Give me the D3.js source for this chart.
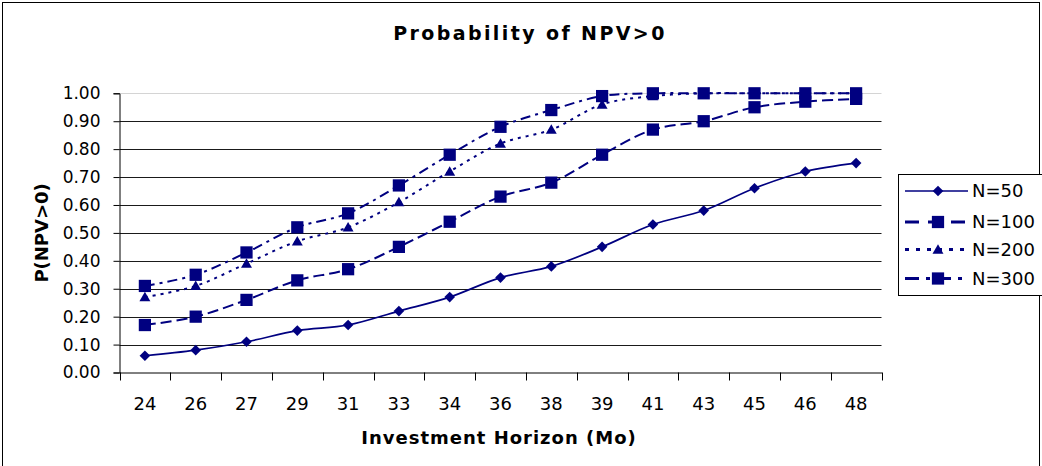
<!DOCTYPE html>
<html>
<head>
<meta charset="utf-8">
<script src="https://cdn.jsdelivr.net/npm/d3@7"></script>
<style>
  body { margin: 0; background: #fff; }
  svg { display: block; }
  text { font-family: "DejaVu Sans", Verdana, sans-serif; fill: #000; }
</style>
</head>
<body>
<svg id="chart" width="1042" height="466"></svg>
<script>
const categories = ["24","26","27","29","31","33","34","36","38","39","41","43","45","46","48"];
const n50  = [0.06,0.08,0.11,0.15,0.17,0.22,0.27,0.34,0.38,0.45,0.53,0.58,0.66,0.72,0.75];
const n100 = [0.17,0.20,0.26,0.33,0.37,0.45,0.54,0.63,0.68,0.78,0.87,0.90,0.95,0.97,0.98];
const n200 = [0.27,0.31,0.39,0.47,0.52,0.61,0.72,0.82,0.87,0.96,0.99,1.00,1.00,1.00,1.00];
const n300 = [0.31,0.35,0.43,0.52,0.57,0.67,0.78,0.88,0.94,0.99,1.00,1.00,1.00,1.00,1.00];
const yTicks = [0,0.1,0.2,0.3,0.4,0.5,0.6,0.7,0.8,0.9,1.0];
const seriesNames = ["N=50","N=100","N=200","N=300"];

const navy = "#000080";
const FONT = '"DejaVu Sans", Verdana, sans-serif';
const svg = d3.select("#chart");

// outer border
svg.append("rect").attr("x",2.5).attr("y",2.5).attr("width",1037).attr("height",480)
  .attr("fill","none").attr("stroke","#000").attr("stroke-width",1);

const pL = 119.5, pR = 881.5, pT = 93.3, pB = 372.5;
const x = d3.scaleBand().domain(categories).range([pL, pR]).padding(0);
const y = d3.scaleLinear().domain([0,1]).range([pB, pT]);
const cx = c => x(c) + x.bandwidth()/2;

// gridlines
svg.append("g").selectAll("line").data(yTicks.filter(t => t > 0)).join("line")
  .attr("x1", pL).attr("x2", pR)
  .attr("y1", d => Math.round(y(d)) + 0.5).attr("y2", d => Math.round(y(d)) + 0.5)
  .attr("stroke", d => d >= 0.999 ? "#d4d4d4" : "#1a1a1a").attr("stroke-width", 1);

// y axis
const yAxis = d3.axisLeft(y).tickValues(yTicks).tickFormat(d3.format(".2f")).tickSize(6).tickPadding(13);
const gy = svg.append("g").attr("transform", `translate(${pL},0)`).call(yAxis);
gy.select(".domain").attr("stroke", "#000");
gy.selectAll(".tick line").attr("stroke", "#000");
gy.selectAll(".tick text").attr("font-size", 17).attr("font-family", FONT).attr("fill","#000");

// x axis
const xAxis = d3.axisBottom(x).tickSize(0).tickPadding(25);
const gx = svg.append("g").attr("transform", `translate(0,${pB})`).call(xAxis);
gx.select(".domain").attr("stroke", "#000");
gx.selectAll(".tick text").attr("font-size", 18).attr("font-family", FONT).attr("fill","#000");
// boundary ticks between categories
const bounds = categories.map(c => x(c)).concat([pR]);
svg.append("g").selectAll("line").data(bounds).join("line")
  .attr("x1", d => Math.round(d) + 0.5).attr("x2", d => Math.round(d) + 0.5)
  .attr("y1", pB).attr("y2", pB + 8).attr("stroke", "#000");

// title & axis titles
svg.append("text").attr("x", 530).attr("y", 40).attr("text-anchor","middle")
  .attr("font-size", 19).attr("font-weight","bold").attr("letter-spacing", 2.4).text("Probability of NPV>0");
svg.append("text").attr("x", 499).attr("y", 444).attr("text-anchor","middle")
  .attr("font-size", 18).attr("font-weight","bold").attr("letter-spacing", 1).text("Investment Horizon (Mo)");
svg.append("text").attr("transform", `translate(48,${(pT+pB)/2}) rotate(-90)`).attr("text-anchor","middle")
  .attr("font-size", 18).attr("font-weight","bold").text("P(NPV>0)");

// series
const styles = [
  {data:n50,  dash:null,       w:1.7, marker:"diamond"},
  {data:n100, dash:"11,5",     w:2,   marker:"square"},
  {data:n200, dash:"3,5",      w:2,   marker:"triangle"},
  {data:n300, dash:"10,5,3,5", w:2,   marker:"square"}
];
const symbolFor = m => m === "diamond" ? d3.symbol().type(d3.symbolDiamond2).size(72)
                   : m === "triangle" ? d3.symbol().type(d3.symbolTriangle).size(52)
                   : d3.symbol().type(d3.symbolSquare).size(150);

const line = d3.line().x((d,i) => cx(categories[i])).y(d => y(d)).curve(d3.curveCatmullRom.alpha(0.5));
styles.forEach(s => {
  svg.append("path").datum(s.data).attr("d", line).attr("fill","none")
    .attr("stroke", navy).attr("stroke-width", s.w).attr("stroke-dasharray", s.dash);
  svg.append("g").selectAll("path").data(s.data).join("path")
    .attr("transform", (d,i) => `translate(${cx(categories[i])},${y(d) + (s.marker==="triangle"?1:0)})`)
    .attr("d", symbolFor(s.marker)()).attr("fill", navy);
});

// legend
const lg = svg.append("g");
lg.append("rect").attr("x", 898.5).attr("y", 174.5).attr("width", 160).attr("height", 121)
  .attr("fill","#fff").attr("stroke","#000").attr("stroke-width",1);
const ly = [191, 222, 249.5, 278.5];
styles.forEach((s,i) => {
  lg.append("line").attr("x1", 905).attr("x2", 968).attr("y1", ly[i]).attr("y2", ly[i])
    .attr("stroke", navy).attr("stroke-width", i===0 ? 1.7 : 3).attr("stroke-dasharray", s.dash ? (i===1?"14,9":i===2?"4,7":"14,7,4,7") : null);
  lg.append("path").attr("transform", `translate(938,${ly[i] + (s.marker==="triangle"?1:0)})`)
    .attr("d", symbolFor(s.marker)()).attr("fill", navy);
  lg.append("text").attr("x", 972).attr("y", ly[i]).attr("dy","0.36em")
    .attr("font-size", 18).text(seriesNames[i]);
});
</script>
</body>
</html>
